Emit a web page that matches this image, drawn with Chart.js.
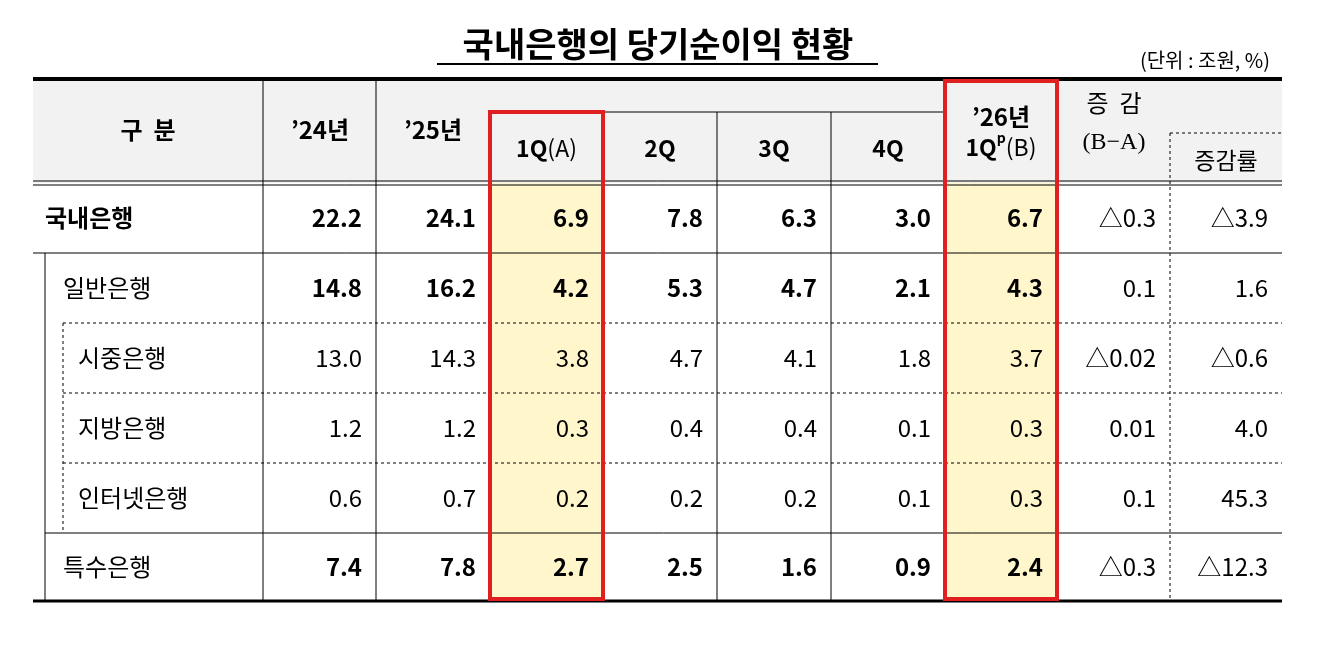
<!DOCTYPE html><html><head><meta charset="utf-8">
<script src="https://cdn.jsdelivr.net/npm/chart.js@4"></script>
<style>html,body{margin:0;padding:0;background:#fff}#w{width:1321px;height:661px}</style></head><body><div id="w"><canvas id="c"></canvas></div>
<script>
const title='국내은행의 당기순이익 현황';
const unit='(단위 : 조원, %)';
const rowLabels=['국내은행','일반은행','시중은행','지방은행','인터넷은행','특수은행'];
const y24=['22.2','14.8','13.0','1.2','0.6','7.4'];
const y25=['24.1','16.2','14.3','1.2','0.7','7.8'];
const q1=['6.9','4.2','3.8','0.3','0.2','2.7'];
const q2=['7.8','5.3','4.7','0.4','0.2','2.5'];
const q3=['6.3','4.7','4.1','0.4','0.2','1.6'];
const q4=['3.0','2.1','1.8','0.1','0.1','0.9'];
const y26=['6.7','4.3','3.7','0.3','0.3','2.4'];
const diff=['△0.3','0.1','△0.02','0.01','0.1','△0.3'];
const rate=['△3.9','1.6','△0.6','4.0','45.3','△12.3'];
const boldRows=[true,true,false,false,false,true];
// layout
const colEdges=[33,263,376,490,603,717,831,945,1057,1170,1282];
const rowEdges=[183,253,323,393,463,533,601];
const indent=[45,63,78,78,78,63];
const F='"Noto Sans CJK KR","Noto Sans",sans-serif';
const tablePlugin={id:'tbl',afterDraw(ch){
 const c=ch.ctx,X=v=>ch.scales.x.getPixelForValue(v),Y=v=>ch.scales.y.getPixelForValue(v);
 c.save();
 const line=(x1,y1,x2,y2,w,col,dash)=>{c.beginPath();c.lineWidth=w;c.strokeStyle=col||'#000';c.setLineDash(dash||[]);c.moveTo(X(x1),Y(y1));c.lineTo(X(x2),Y(y2));c.stroke();c.setLineDash([]);};
 const txt=(s,x,y,font,al)=>{c.font=font;c.textAlign=al||'center';c.textBaseline='middle';c.fillStyle='#000';c.fillText(s,X(x),Y(y));};
 c.fillStyle='#f2f2f2';c.fillRect(X(33),Y(79),X(1282)-X(33),Y(183)-Y(79));
 c.fillStyle='#fff6cc';
 c.fillRect(X(490),Y(183),X(603)-X(490),Y(601)-Y(183));
 c.fillRect(X(945),Y(183),X(1057)-X(945),Y(601)-Y(183));
 txt(title,658,44,'bold 34px '+F);
 line(437,64,878,64,2);
 txt(unit,1270,60,'20px '+F,'right');
 line(33,79,1282,79,4);
 line(490,112,945,112,1);
 line(1170,133,1282,133,1,'#000',[3,3]);
 line(33,181,1282,181,1);line(33,185,1282,185,1);
 [263,376].forEach(x=>line(x,79,x,601,1));
 [603,717,831].forEach(x=>line(x,112,x,601,1));
 [945,1057].forEach(x=>line(x,79,x,601,1));
 line(1170,133,1170,601,1,'#000',[3,3]);
 txt('구  분',148,130,'bold 24px '+F);
 txt('’24년',320,130,'bold 24px '+F);
 txt('’25년',433,130,'bold 24px '+F);
 c.font='bold 23px '+F;let w1=c.measureText('1Q').width;c.font='23px '+F;let w2=c.measureText('(A)').width;
 let sx=X(546.5)-(w1+w2)/2;c.textAlign='left';c.textBaseline='middle';c.fillStyle='#000';
 c.font='bold 23px '+F;c.fillText('1Q',sx,Y(148));c.font='23px '+F;c.fillText('(A)',sx+w1,Y(148));
 txt('2Q',660,148,'bold 23px '+F);txt('3Q',774,148,'bold 23px '+F);txt('4Q',888,148,'bold 23px '+F);
 txt('’26년',1001,117,'bold 24px '+F);
 c.font='bold 23px '+F;w1=c.measureText('1Q').width;c.font='bold 14px '+F;let wp=c.measureText('p').width;c.font='23px '+F;w2=c.measureText('(B)').width;
 sx=X(1001)-(w1+wp+w2)/2;c.textAlign='left';
 c.font='bold 23px '+F;c.fillText('1Q',sx,Y(147));c.font='bold 14px '+F;c.fillText('p',sx+w1,Y(138));c.font='23px '+F;c.fillText('(B)',sx+w1+wp,Y(147));
 txt('증  감',1114,103,'24px '+F);
 txt('(B−A)',1114,143,'24px "Liberation Serif",serif');
 txt('증감률',1226,160,'23px '+F);
 const cols=[y24,y25,q1,q2,q3,q4,y26,diff,rate];
 rowLabels.forEach((lab,r)=>{
  const ym=(rowEdges[r]+rowEdges[r+1])/2;
  txt(lab,indent[r],ym,(r===0?'bold ':'')+'24px '+F,'left');
  cols.forEach((arr,i)=>{const b=boldRows[r]&&i<7;txt(arr[r],colEdges[i+2]-14,ym,(b?'bold ':'')+'24px '+F,'right');});
 });
 line(33,253,1282,253,1);line(45,253,45,601,1);
 [323,393,463].forEach(y=>line(63,y,1282,y,1,'#000',[3,3]));
 line(63,323,63,533,1,'#000',[3,3]);
 line(45,533,1282,533,1);
 line(33,601,1282,601,3);
 c.strokeStyle='#e02020';c.lineWidth=4;
 c.strokeRect(X(490),Y(112),X(603)-X(490),Y(599)-Y(112));
 c.strokeRect(X(945),Y(81),X(1057)-X(945),Y(599)-Y(81));
 c.restore();
}};
new Chart(document.getElementById('c'),{type:'scatter',data:{datasets:[]},
 options:{responsive:true,maintainAspectRatio:false,animation:false,layout:{padding:0},
 plugins:{legend:{display:false},tooltip:{enabled:false}},
 scales:{x:{type:'linear',min:0,max:1321,display:false},y:{type:'linear',min:0,max:661,reverse:true,display:false}}},
 plugins:[tablePlugin]});
</script></body></html>
